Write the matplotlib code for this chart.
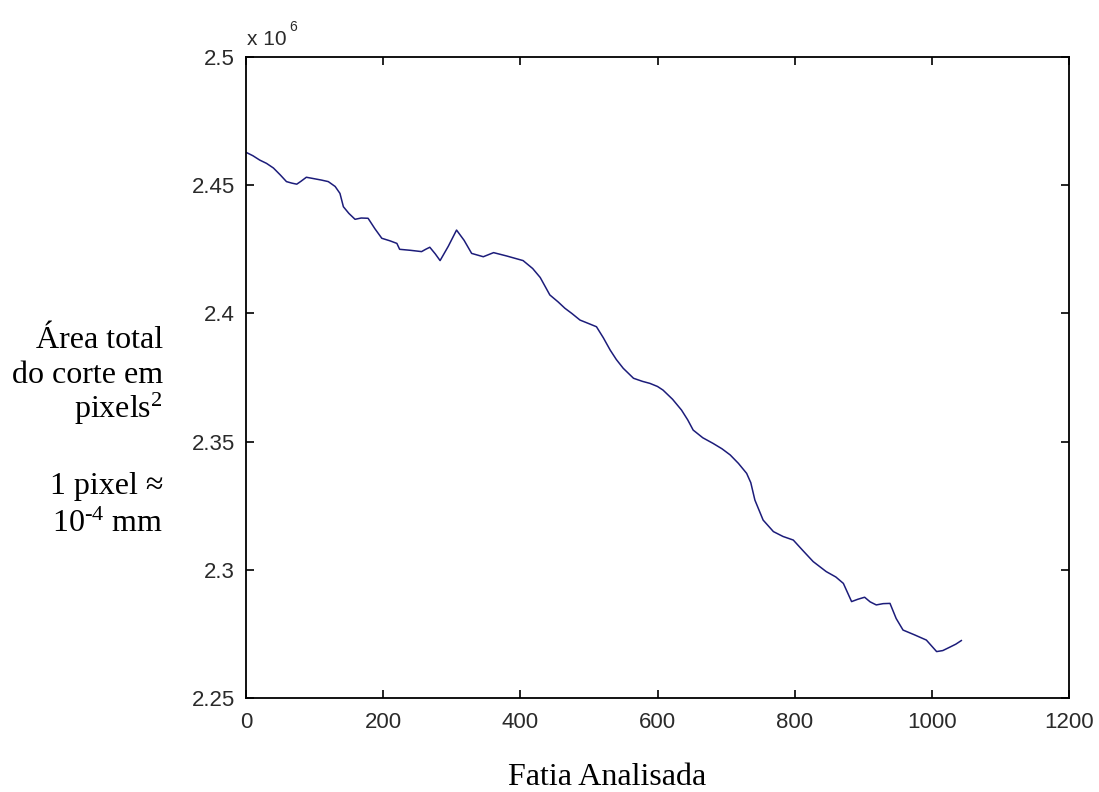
import numpy as np
import matplotlib
matplotlib.use("Agg")
import matplotlib.pyplot as plt

# slice index vs total cut area (units of 10^6 pixels^2)
fatia = [1, 10, 20, 30, 40, 50, 59, 67, 74, 80, 88, 100, 110, 120, 130, 137, 142,
         150, 159, 168, 178, 188, 198, 210, 220, 224, 240, 256, 262, 268, 276, 283,
         295, 307, 318, 329, 346, 361, 380, 404, 418, 429, 443, 455, 465, 475, 487,
         500, 511, 521, 531, 540, 550, 565, 578, 589, 600, 608, 622, 635, 644, 652,
         666, 681, 694, 706, 718, 730, 736, 742, 754, 769, 783, 798, 812, 827, 846,
         860, 871, 883, 892, 902, 910, 919, 929, 939, 948, 958, 975, 992, 1007, 1016,
         1026, 1035, 1043]
area_e6 = [2.4627, 2.4615, 2.4598, 2.4585, 2.4567, 2.4540, 2.4514, 2.4508, 2.4504,
           2.4515, 2.4531, 2.4525, 2.4520, 2.4514, 2.4495, 2.4468, 2.4416, 2.4390,
           2.4367, 2.4372, 2.4371, 2.4330, 2.4293, 2.4283, 2.4273, 2.4250, 2.4246,
           2.4241, 2.4250, 2.4258, 2.4232, 2.4206, 2.4262, 2.4325, 2.4285, 2.4234,
           2.4221, 2.4237, 2.4224, 2.4206, 2.4175, 2.4140, 2.4072, 2.4045, 2.4020,
           2.4000, 2.3974, 2.3960, 2.3948, 2.3905, 2.3857, 2.3820, 2.3786, 2.3747,
           2.3735, 2.3727, 2.3715, 2.3701, 2.3665, 2.3623, 2.3585, 2.3545, 2.3515,
           2.3493, 2.3472, 2.3448, 2.3415, 2.3376, 2.3340, 2.3272, 2.3194, 2.3149,
           2.3130, 2.3116, 2.3075, 2.3032, 2.2993, 2.2972, 2.2947, 2.2876, 2.2885,
           2.2893, 2.2875, 2.2863, 2.2868, 2.2869, 2.2810, 2.2765, 2.2746, 2.2726,
           2.2681, 2.2685, 2.2698, 2.2710, 2.2724]

xticks = [0, 200, 400, 600, 800, 1000, 1200]
yticks = [2.25, 2.3, 2.35, 2.4, 2.45, 2.5]
ytick_labels = ["2.25", "2.3", "2.35", "2.4", "2.45", "2.5"]

plt.rcParams['mathtext.fontset'] = 'custom'
plt.rcParams['mathtext.rm'] = 'Liberation Serif'
plt.rcParams['mathtext.it'] = 'Liberation Serif'


def main():
    W, H = 1099, 792
    fig = plt.figure(figsize=(W/100, H/100), dpi=100)
    ax = fig.add_axes([246/W, 1 - 698/H, (1069-246)/W, (698-57)/H])

    ax.plot(fatia, area_e6, color='#1c1c7a', lw=1.1)

    ax.set_xlim(0, 1200)
    ax.set_ylim(2.25, 2.5)
    ax.set_xticks(xticks)
    ax.set_yticks(yticks)
    ax.set_yticklabels(ytick_labels)
    ax.tick_params(direction='in', top=True, right=True, length=6, width=1.2,
                   labelsize=16, labelcolor='#2a2a2a')
    ax.tick_params(axis='y', pad=8)
    ax.tick_params(axis='x', pad=10)
    for lab in ax.get_xticklabels() + ax.get_yticklabels():
        lab.set_family('Liberation Sans')
    for s in ax.spines.values():
        s.set_linewidth(1.3)

    # MATLAB style exponent above the y axis
    fig.text(247/W, 1 - 45/H, "x 10", fontsize=15, color='#2a2a2a',
             family='Liberation Sans', va='baseline', ha='left')
    fig.text(289/W, 1 - 31/H, "6", fontsize=10, color='#2a2a2a',
             family='Liberation Sans', va='baseline', ha='left')

    serif = dict(family='Liberation Serif', fontsize=23, color='black',
                 ha='right', va='baseline')
    rx = 163/W
    fig.text(rx, 1 - 348/H, "Área total", **serif)
    fig.text(rx, 1 - 383/H, "do corte em", **serif)
    fig.text(rx, 1 - 418/H, r"pixels$^{\mathrm{2}}$", **serif)
    fig.text(rx, 1 - 494/H, "1 pixel ≈", **serif)
    fig.text(rx, 1 - 532/H, r"10$^{\text{-4}}$ mm", **serif)

    fig.text(607/W, 1 - 785/H, "Fatia Analisada", family='Liberation Serif',
             fontsize=23, ha='center', va='baseline')

    fig.savefig("out.png", dpi=100)
    plt.close(fig)


if __name__ == "__main__":
    main()
